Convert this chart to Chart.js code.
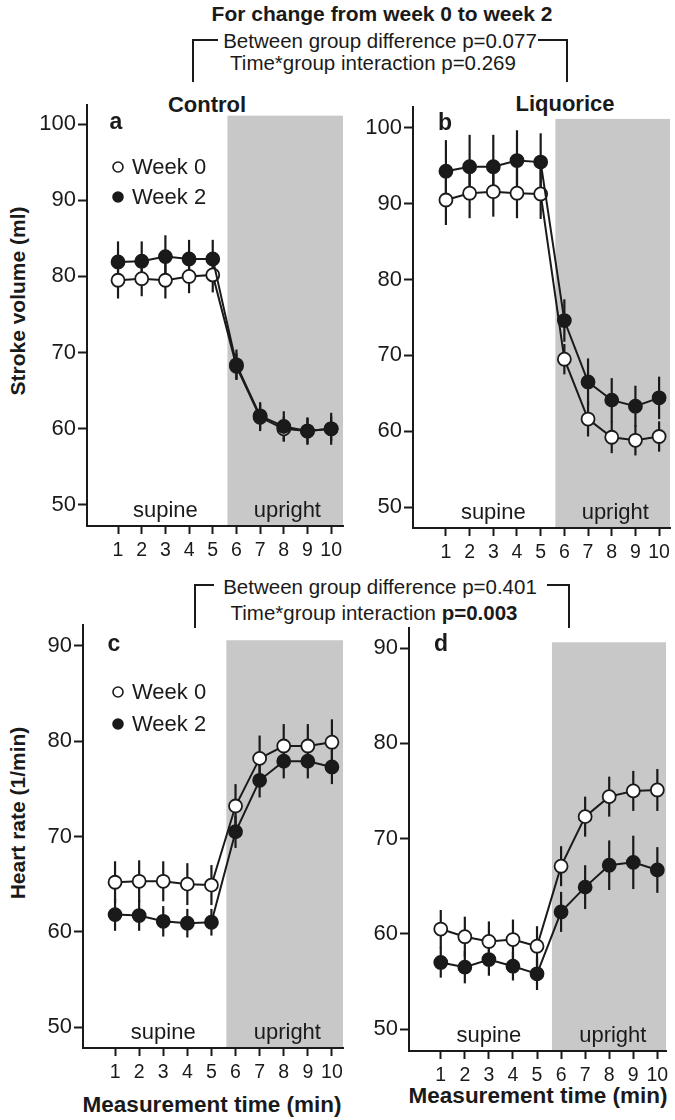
<!DOCTYPE html>
<html>
<head>
<meta charset="utf-8">
<script src="https://cdn.jsdelivr.net/npm/chart.js@4.4.1/dist/chart.umd.min.js"></script>
<style>
  body { margin: 0; background: #fff; width: 675px; height: 1120px; position: relative; overflow: hidden;
         font-family: "Liberation Sans", Arial, sans-serif; color: #1a1a1a; }
  canvas { position: absolute; }
  .t { position: absolute; white-space: nowrap; transform: translate(-50%, -50%); font-size: 20.5px; line-height: 1; }
  .b { font-weight: bold; }
  .rot { transform: translate(-50%, -50%) rotate(-90deg); }
  .ln { position: absolute; background: #1a1a1a; z-index: 5; }
</style>
</head>
<body>

<div class="t b" style="left:382px;top:13px;font-size:21px">For change from week 0 to week 2</div>
<div class="t" style="left:380px;top:41px">Between group difference p=0.077</div>
<div class="t" style="left:373px;top:63px">Time*group interaction p=0.269</div>
<div class="t" style="left:380px;top:587px">Between group difference p=0.401</div>
<div class="t" style="left:374px;top:613px">Time*group interaction <b>p=0.003</b></div>

<div class="t b" style="left:207px;top:105px;font-size:22px">Control</div>
<div class="t b" style="left:565px;top:104px;font-size:22px">Liquorice</div>
<div class="t b rot" style="left:17px;top:301px;font-size:21px">Stroke volume (ml)</div>
<div class="t b rot" style="left:17px;top:813px;font-size:21px">Heart rate (1/min)</div>
<div class="t b" style="left:212px;top:1105px;font-size:22.5px">Measurement time (min)</div>
<div class="t b" style="left:538px;top:1096px;font-size:22.5px">Measurement time (min)</div>

<!-- brackets -->
<div class="ln" style="left:192px;top:39px;width:26px;height:2px"></div>
<div class="ln" style="left:192px;top:39px;width:2px;height:43px"></div>
<div class="ln" style="left:538px;top:39px;width:30px;height:2px"></div>
<div class="ln" style="left:566px;top:39px;width:2px;height:43px"></div>
<div class="ln" style="left:194px;top:584px;width:20px;height:2px"></div>
<div class="ln" style="left:194px;top:584px;width:2px;height:44px"></div>
<div class="ln" style="left:547px;top:584px;width:23px;height:2px"></div>
<div class="ln" style="left:568px;top:584px;width:2px;height:44px"></div>

<script>
// measurement minutes and axis ticks
const minutes = [1, 2, 3, 4, 5, 6, 7, 8, 9, 10];
const svTicks = [50, 60, 70, 80, 90, 100];
const hrTicks = [50, 60, 70, 80, 90];
const seriesLabels = ["Week 0", "Week 2"];
const uprightStart = 5.62;

// stroke volume, control group (mean and SE)
const svControlWeek0 = [79.5, 79.7, 79.5, 80.0, 80.2, 68.2, 61.5, 60.0, 59.7, 60.0];
const svControlWeek0Err = [2.4, 2.3, 2.4, 2.2, 2.3, 1.7, 1.8, 1.6, 1.7, 1.6];
const svControlWeek2 = [81.9, 82.0, 82.6, 82.3, 82.3, 68.4, 61.7, 60.3, 59.7, 60.0];
const svControlWeek2Err = [2.7, 2.6, 2.8, 2.5, 2.5, 2.0, 1.8, 2.0, 1.8, 2.1];

// stroke volume, liquorice group
const svLiqWeek0 = [90.5, 91.4, 91.6, 91.4, 91.3, 69.5, 61.6, 59.2, 58.8, 59.3];
const svLiqWeek0Err = [3.3, 3.3, 3.3, 3.3, 3.3, 2.0, 2.3, 2.1, 2.0, 2.0];
const svLiqWeek2 = [94.3, 94.9, 94.9, 95.7, 95.5, 74.6, 66.5, 64.1, 63.3, 64.4];
const svLiqWeek2Err = [4.1, 4.2, 4.2, 4.0, 3.8, 2.8, 3.1, 2.9, 2.7, 2.8];

// heart rate, control group
const hrControlWeek0 = [65.2, 65.3, 65.3, 65.0, 64.9, 73.2, 78.2, 79.5, 79.5, 79.9];
const hrControlWeek0Err = [2.2, 2.2, 2.1, 2.2, 2.1, 2.3, 2.4, 2.3, 2.3, 2.4];
const hrControlWeek2 = [61.8, 61.7, 61.1, 60.9, 61.0, 70.5, 75.9, 77.9, 77.9, 77.3];
const hrControlWeek2Err = [1.7, 1.6, 1.6, 1.5, 1.4, 1.7, 1.8, 1.8, 1.8, 1.8];

// heart rate, liquorice group
const hrLiqWeek0 = [60.5, 59.7, 59.2, 59.4, 58.7, 67.1, 72.3, 74.4, 75.0, 75.1];
const hrLiqWeek0Err = [2.0, 2.1, 2.1, 2.1, 2.1, 2.1, 2.1, 2.1, 2.1, 2.2];
const hrLiqWeek2 = [57.0, 56.5, 57.3, 56.6, 55.8, 62.3, 64.9, 67.2, 67.5, 66.7];
const hrLiqWeek2Err = [1.6, 1.7, 1.7, 1.5, 1.7, 2.1, 2.3, 2.6, 2.8, 2.4];

Chart.defaults.font.family = '"Liberation Sans", Arial, sans-serif';
Chart.defaults.color = "#1a1a1a";

const INK = "#1a1a1a";
const AXW = 80, AXH = 45, PT = 20, PR = 15;

function decoPlugin(p) {
  return {
    id: "deco",
    beforeDraw(chart) {
      const { ctx, chartArea, scales: { x, y } } = chart;
      const sx = x.getPixelForValue(uprightStart);
      const sy = y.getPixelForValue(p.shadeTop);
      ctx.save();
      ctx.fillStyle = "#c8c8c8";
      ctx.fillRect(sx, sy, chartArea.right - sx, chartArea.bottom - sy);
      ctx.fillStyle = INK;
      ctx.font = '22px "Liberation Sans", Arial, sans-serif';
      ctx.textAlign = "center";
      ctx.textBaseline = "alphabetic";
      ctx.fillText("supine", x.getPixelForValue(3), chartArea.bottom - 9.5);
      ctx.fillText("upright", x.getPixelForValue(8.15), chartArea.bottom - 9.5);
      ctx.restore();
    },
    beforeDatasetsDraw(chart) {
      const { ctx, scales: { x, y } } = chart;
      ctx.save();
      ctx.strokeStyle = INK;
      ctx.lineWidth = 2.2;
      p.errs.forEach((err, i) => {
        const vals = chart.data.datasets[i].data;
        vals.forEach((pt, j) => {
          const px = x.getPixelForValue(pt.x);
          ctx.beginPath();
          ctx.moveTo(px, y.getPixelForValue(pt.y - err[j]));
          ctx.lineTo(px, y.getPixelForValue(pt.y + err[j]));
          ctx.stroke();
        });
      });
      ctx.restore();
    },
    afterDraw(chart) {
      const { ctx, chartArea } = chart;
      ctx.save();
      ctx.fillStyle = INK;
      ctx.font = 'bold 23px "Liberation Sans", Arial, sans-serif';
      ctx.textAlign = "center";
      ctx.textBaseline = "middle";
      ctx.fillText(p.letter, chartArea.left + p.letterPos[0], chartArea.top + p.letterPos[1]);
      if (p.legend) {
        const [lx, ly0, ly1, tx] = p.legend;
        ctx.font = '22px "Liberation Sans", Arial, sans-serif';
        ctx.textAlign = "left";
        [ly0, ly1].forEach((ly, i) => {
          ctx.beginPath();
          ctx.arc(chartArea.left + lx, chartArea.top + ly, 5, 0, Math.PI * 2);
          ctx.fillStyle = i === 0 ? "#fff" : INK;
          ctx.fill();
          ctx.lineWidth = 1.6;
          ctx.strokeStyle = INK;
          ctx.stroke();
          ctx.fillStyle = INK;
          ctx.fillText(seriesLabels[i], chartArea.left + tx, chartArea.top + ly + 1);
        });
      }
      ctx.restore();
    }
  };
}

function makePanel(p) {
  const cv = document.createElement("canvas");
  const w = p.box.right - p.box.left + AXW + PR;
  const h = p.box.bottom - p.box.top + PT + AXH;
  cv.width = w; cv.height = h;
  cv.style.left = (p.box.left - AXW) + "px";
  cv.style.top = (p.box.top - PT) + "px";
  cv.style.width = w + "px"; cv.style.height = h + "px";
  document.body.appendChild(cv);

  const series = (vals, filled, order) => ({
    label: seriesLabels[filled ? 1 : 0],
    data: minutes.map((m, i) => ({ x: m, y: vals[i] })),
    borderColor: INK,
    borderWidth: 2,
    pointRadius: 6.5,
    pointBorderWidth: 1.8,
    pointBackgroundColor: filled ? INK : "#fff",
    pointBorderColor: INK,
    tension: 0,
    order: order
  });

  new Chart(cv, {
    type: "line",
    data: { datasets: [series(p.w0, false, 2), series(p.w2, true, 1)] },
    options: {
      responsive: false,
      animation: false,
      layout: { padding: { top: PT, right: PR, left: 0, bottom: 0 } },
      plugins: { legend: { display: false }, tooltip: { enabled: false } },
      scales: {
        x: {
          type: "linear", min: p.xMin, max: p.xMax,
          afterBuildTicks: s => { s.ticks = minutes.map(v => ({ value: v })); },
          afterFit: s => { s.height = AXH; },
          grid: { drawOnChartArea: false, drawTicks: true, tickLength: 8, tickColor: INK, tickWidth: 2 },
          border: { display: true, color: INK, width: 2 },
          ticks: { font: { size: 19.5 }, color: INK, padding: 5, maxRotation: 0, autoSkip: false }
        },
        y: {
          min: p.yMin, max: p.yMax,
          afterBuildTicks: s => { s.ticks = p.yTicks.map(v => ({ value: v })); },
          afterFit: s => { s.width = AXW; },
          grid: { drawOnChartArea: false, drawTicks: true, tickLength: 9, tickColor: INK, tickWidth: 2 },
          border: { display: true, color: INK, width: 2 },
          ticks: { font: { size: 22 }, color: INK, padding: 2 }
        }
      }
    },
    plugins: [decoPlugin(p)]
  });
}

makePanel({
  box: { left: 87, top: 105, right: 343, bottom: 526 },
  xMin: -0.31, xMax: 10.5, yMin: 47.24, yMax: 102.5, yTicks: svTicks, shadeTop: 101.1,
  w0: svControlWeek0, w2: svControlWeek2, errs: [svControlWeek0Err, svControlWeek2Err],
  letter: "a", letterPos: [29, 18], legend: [31, 62, 92, 45]
});
makePanel({
  box: { left: 413, top: 107, right: 670, bottom: 528 },
  xMin: -0.39, xMax: 10.46, yMin: 47.23, yMax: 102.77, yTicks: svTicks, shadeTop: 101.2,
  w0: svLiqWeek0, w2: svLiqWeek2, errs: [svLiqWeek0Err, svLiqWeek2Err],
  letter: "b", letterPos: [32, 17]
});
makePanel({
  box: { left: 83, top: 625, right: 343, bottom: 1048 },
  xMin: -0.33, xMax: 10.46, yMin: 47.8, yMax: 92.2, yTicks: hrTicks, shadeTop: 90.6,
  w0: hrControlWeek0, w2: hrControlWeek2, errs: [hrControlWeek0Err, hrControlWeek2Err],
  letter: "c", letterPos: [31, 20], legend: [35, 67, 99, 49]
});
makePanel({
  box: { left: 409, top: 628, right: 666, bottom: 1051 },
  xMin: -0.32, xMax: 10.36, yMin: 47.7, yMax: 92.1, yTicks: hrTicks, shadeTop: 90.6,
  w0: hrLiqWeek0, w2: hrLiqWeek2, errs: [hrLiqWeek0Err, hrLiqWeek2Err],
  letter: "d", letterPos: [32, 17]
});
</script>
</body>
</html>
